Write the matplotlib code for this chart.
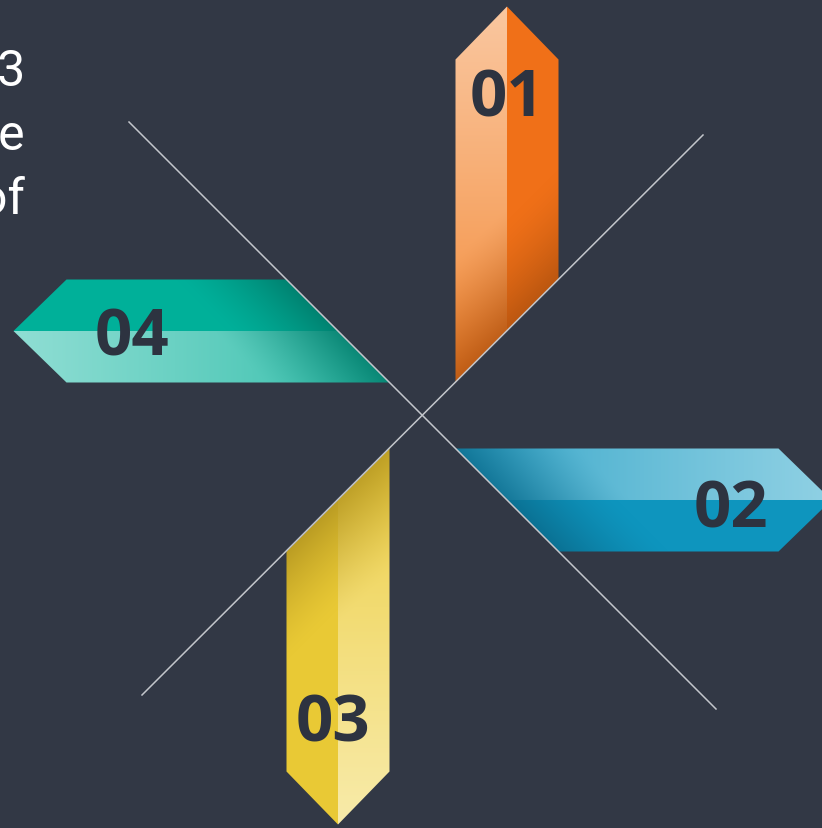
import numpy as np
import matplotlib.pyplot as plt
from matplotlib.patches import Polygon
from matplotlib.colors import to_rgb

# chart content
labels = ["01", "02", "03", "04"]
side_lines = ["Phase 3", "see the", "made of"]

# colours per arrow: light face (far end, near end), dark face, cut shadow
light_far = ["#FAC7A0", "#90D1E4", "#F8EBAA", "#90DED4"]
light_near = ["#F3842C", "#2DA2C6", "#ECCB38", "#27BAA5"]
dark_face = ["#F07018", "#0E95BE", "#E9C935", "#00B09A"]
shadow = ["#B2520E", "#0A6B8C", "#B39520", "#007A69"]

BG = "#323845"
TEXT_DARK = "#2D3340"
W, H = 822, 829
CX, CY = 422.5, 416.5

# arrow geometry in local (u along arrow, v across) coordinates
V_IN, V_MID, V_OUT = 33, 84.5, 136
U_SHOULDER, U_TIP = 356, 409
directions = [(0, -1), (1, 0), (0, 1), (-1, 0)]
label_u = [324, 308, 302, 291]
label_v = [0, 3, 5, 0]

fig = plt.figure(figsize=(W / 100, H / 100), dpi=100)
fig.patch.set_facecolor(BG)
ax = fig.add_axes([0, 0, 1, 1])
ax.set_facecolor(BG)


def to_xy(k, u, v):
    dx, dy = directions[k]
    px, py = -dy, dx
    return CX + u * dx + v * px, CY + u * dy + v * py


def local(k, X, Y):
    dx, dy = directions[k]
    px, py = -dy, dx
    u = (X - CX) * dx + (Y - CY) * dy
    v = (X - CX) * px + (Y - CY) * py
    return u, v


def draw_face(k, pts_uv, light):
    pts = np.array([to_xy(k, u, v) for u, v in pts_uv])
    x0, y0 = np.floor(pts.min(axis=0)) - 1
    x1, y1 = np.ceil(pts.max(axis=0)) + 1
    X, Y = np.meshgrid(np.arange(x0, x1) + 0.5, np.arange(y0, y1) + 0.5)
    u, v = local(k, X, Y)
    if light:
        t = np.clip((u - V_IN) / (U_TIP - V_IN), 0, 1)[..., None] ** 0.8
        c0, c1 = np.array(to_rgb(light_near[k])), np.array(to_rgb(light_far[k]))
        rgb = c0 + (c1 - c0) * t
        w = np.clip(1 - (u - v) / 125, 0, 1)[..., None] ** 1.4 * 0.8
    else:
        base = np.array(to_rgb(dark_face[k]))
        rgb = np.broadcast_to(base, X.shape + (3,)).copy()
        w = np.clip(1 - (u - v) / 110, 0, 1)[..., None] ** 1.4 * 0.85
    sh = np.array(to_rgb(shadow[k]))
    rgb = rgb * (1 - w) + sh * w
    im = ax.imshow(rgb, extent=(x0, x1, y1, y0), origin="upper",
                   interpolation="bilinear", zorder=2)
    poly = Polygon(pts, closed=True, facecolor="none", edgecolor="none")
    ax.add_patch(poly)
    im.set_clip_path(poly)


for k in range(4):
    light_pts = [(V_IN, V_IN), (U_SHOULDER, V_IN), (U_TIP, V_MID), (V_MID, V_MID)]
    dark_pts = [(V_MID, V_MID), (U_TIP, V_MID), (U_SHOULDER, V_OUT), (V_OUT, V_OUT)]
    draw_face(k, light_pts, True)
    draw_face(k, dark_pts, False)
    tx, ty = to_xy(k, label_u[k], V_MID + label_v[k])
    ax.text(tx, ty + 7, labels[k], ha="center", va="center", fontsize=47,
            fontweight="bold", color=TEXT_DARK, zorder=4,
            family=["Open Sans", "DejaVu Sans"])

# crossing guide lines
ax.plot([129, 716], [123, 710], color="#C3C6CB", lw=1.1, zorder=3)
ax.plot([703, 142], [136, 696], color="#C3C6CB", lw=1.1, zorder=3)

# text cut off at the left edge
for i, line in enumerate(side_lines):
    ax.text(25, 86 + i * 64, line, ha="right", va="baseline", fontsize=36,
            color="white", family=["Roboto", "DejaVu Sans"], zorder=4)

ax.set_xlim(0, W)
ax.set_ylim(H, 0)
ax.axis("off")
fig.savefig("out.png", dpi=100, facecolor=BG)
